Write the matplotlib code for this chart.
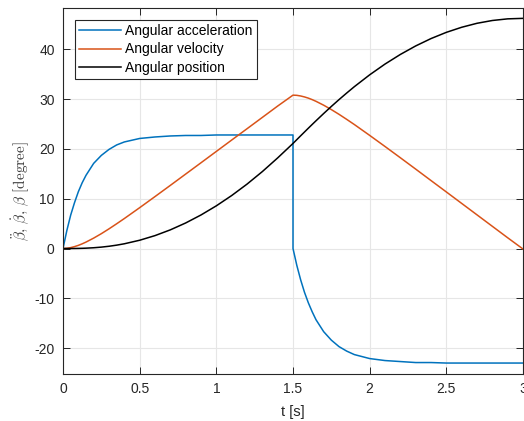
import matplotlib
matplotlib.use("Agg")
import matplotlib.pyplot as plt
import numpy as np

plt.rcParams['font.family'] = ['Liberation Sans', 'DejaVu Sans']
plt.rcParams['mathtext.fontset'] = 'cm'
plt.rcParams['axes.unicode_minus'] = False

# time samples [s] (1.5 repeated for the step in acceleration)
t = [0, 0.025, 0.05, 0.075, 0.1, 0.125, 0.15, 0.2, 0.25, 0.3, 0.35, 0.4,
     0.5, 0.6, 0.7, 0.8, 0.9, 1.0, 1.1, 1.2, 1.3, 1.4, 1.5,
     1.5, 1.525, 1.55, 1.575, 1.6, 1.625, 1.65, 1.7, 1.75, 1.8, 1.85, 1.9,
     2.0, 2.1, 2.2, 2.3, 2.4, 2.5, 2.6, 2.7, 2.8, 2.9, 3.0]

acceleration = [0, 3.6, 6.7, 9.2, 11.4, 13.2, 14.7, 17.1, 18.7, 19.9, 20.8, 21.4,
                22.1, 22.4, 22.6, 22.7, 22.7, 22.8, 22.8, 22.8, 22.8, 22.8, 22.8,
                0, -3.4, -6.3, -8.8, -10.9, -12.7, -14.3, -16.7, -18.4, -19.7, -20.6, -21.3,
                -22.1, -22.5, -22.7, -22.9, -22.9, -23.0, -23.0, -23.0, -23.0, -23.0, -23.0]

velocity = [0, 0.05, 0.18, 0.38, 0.63, 0.94, 1.29, 2.09, 2.98, 3.95, 4.97, 6.02,
            8.20, 10.43, 12.68, 14.95, 17.22, 19.50, 21.78, 24.05, 26.33, 28.61, 30.8,
            30.8, 30.76, 30.63, 30.44, 30.20, 29.90, 29.56, 28.78, 27.90, 26.95, 25.94, 24.90,
            22.72, 20.49, 18.23, 15.95, 13.65, 11.36, 9.06, 6.76, 4.46, 2.16, -0.1]

position = [0, 0.0, 0.003, 0.01, 0.022, 0.042, 0.07, 0.154, 0.28, 0.453, 0.676, 0.951,
            1.661, 2.592, 3.747, 5.129, 6.737, 8.573, 10.637, 12.928, 15.448, 18.195, 21.1,
            21.1, 21.87, 22.64, 23.40, 24.16, 24.91, 25.65, 27.11, 28.53, 29.90, 31.22, 32.50,
            34.88, 37.04, 38.97, 40.68, 42.16, 43.41, 44.43, 45.23, 45.79, 46.12, 46.22]

labels = ["Angular acceleration", "Angular velocity", "Angular position"]
colors = ["#0072BD", "#D95319", "#000000"]

xticks = [0, 0.5, 1, 1.5, 2, 2.5, 3]
xticklabels = ["0", "0.5", "1", "1.5", "2", "2.5", "3"]
yticks = [-20, -10, 0, 10, 20, 30, 40]
yticklabels = ["-20", "-10", "0", "10", "20", "30", "40"]

fig = plt.figure(figsize=(5.24, 4.21), dpi=100)
ax = fig.add_axes([63/524, 1-374/421, (523-63)/524, (374-8)/421])

for y, lab, c in zip([acceleration, velocity, position], labels, colors):
    ax.plot(t, y, color=c, lw=1.1, label=lab)

ax.set_xlim(0, 3)
ax.set_ylim(-25.2, 48.3)
ax.set_xticks(xticks)
ax.set_xticklabels(xticklabels)
ax.set_yticks(yticks)
ax.set_yticklabels(yticklabels)
ax.grid(True, color="#e6e6e6", lw=0.8)
ax.set_axisbelow(True)
ax.tick_params(direction='in', length=5, width=0.7, colors='#262626',
               labelsize=10, top=True, right=True, pad=6)
for s in ax.spines.values():
    s.set_color('#262626')
    s.set_linewidth(0.8)

ax.set_xlabel("t [s]", fontsize=10.5, color='#262626', labelpad=6)
ax.set_ylabel(r"$\ddot{\beta},\, \dot{\beta},\, \beta\ \mathrm{[degree]}$",
              fontsize=11, color='#404040', labelpad=2)

leg = ax.legend(loc='upper left', bbox_to_anchor=(0.026, 0.967), fontsize=10,
                frameon=True, fancybox=False, edgecolor='#262626', framealpha=1,
                handlelength=3.0, handletextpad=0.3, borderpad=0.3, labelspacing=0.3,
                borderaxespad=0)
leg.get_frame().set_linewidth(0.8)

fig.savefig("out.png", dpi=100)
